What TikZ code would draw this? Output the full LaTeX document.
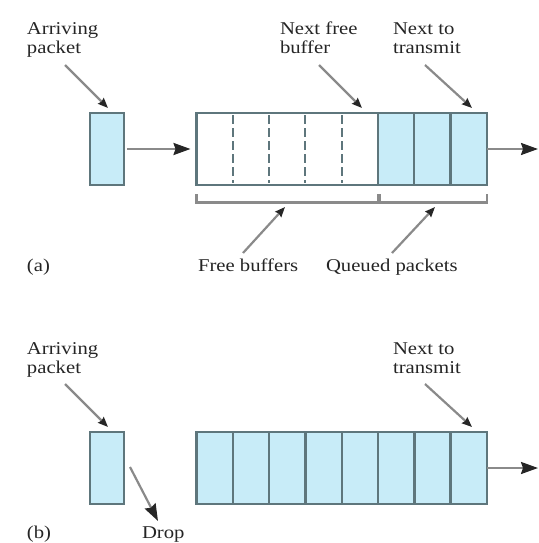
\documentclass[tikz,border=0pt]{standalone}
\usepackage{fontspec}
\setmainfont{Liberation Serif}[FakeStretch=1.15]
\usetikzlibrary{arrows.meta}
\definecolor{pktblue}{HTML}{C8ECF8}
\definecolor{edgec}{HTML}{5E767C}
\definecolor{linec}{HTML}{8A8A8A}
\definecolor{headc}{HTML}{262626}
\definecolor{txtc}{HTML}{252525}
\begin{document}
\begin{tikzpicture}[x=1pt,y=-1pt,
  lbl/.style={anchor=base west, inner sep=0pt, outer sep=0pt, align=left, text=txtc,
    font=\fontsize{18}{19}\selectfont},
  cellb/.style={draw=edgec, fill=pktblue, line width=2.4pt, minimum width=36.3pt,
    minimum height=72pt, inner sep=0pt, outer sep=0pt},
  freeq/.style={draw=edgec, fill=white, line width=2.4pt, minimum width=181.4pt,
    minimum height=72pt, inner sep=0pt, outer sep=0pt},
  divider/.style={draw=edgec, line width=2.2pt, dash pattern=on 9pt off 4pt},
  ptr/.style={draw=linec, line width=2.2pt,
    -{Stealth[length=10pt,width=8pt,inset=1pt,color=headc]}},
  harrow/.style={draw=linec, line width=2.2pt,
    -{Stealth[length=17pt,width=12pt,inset=2pt,color=headc]}},
  brk/.style={draw=linec, line width=2.2pt}
]
\useasboundingbox (0,0) rectangle (538,543);

% ---------- (a) ----------
% (base anchor of a two-line label = baseline of its last line)
\node[lbl] (arrA) at (27,54) {Arriving\\packet};
\node[lbl] (nfbA) at (280,54) {Next free\\buffer};
\node[lbl] (nttA) at (393,54) {Next to\\transmit};

\node[cellb, minimum width=34pt] (a0) at (107,149) {};
\node[freeq] (afree) at (287.2,149) {};
\foreach \xx in {232.8,269.0,305.3,341.6}
  \draw[divider] (\xx,115) -- (\xx,183);
\node[cellb] (aq1) at (396.05,149) {};
\node[cellb] (aq2) at (432.35,149) {};
\node[cellb] (aq3) at (468.65,149) {};

\draw[harrow, shorten <=3pt, shorten >=6pt] (a0) -- (afree);
\coordinate (aout) at (538,149);
\draw[harrow] (aq3.east) -- (aout);

\coordinate (pA1) at (65,65);   \coordinate (tA1) at (108,108);
\coordinate (pA2) at (319,65);  \coordinate (tA2) at (362,108);
\coordinate (pA3) at (425,65);  \coordinate (tA3) at (472,108);
\draw[ptr] (pA1) -- (tA1);
\draw[ptr] (pA2) -- (tA2);
\draw[ptr] (pA3) -- (tA3);

\draw[brk] (196.5,194) -- (196.5,202.5) -- (377.9,202.5) -- (377.9,194);
\draw[brk] (379.5,194) -- (379.5,202.5) -- (486.7,202.5) -- (486.7,194);
\coordinate (pB1) at (243,253); \coordinate (tB1) at (285,207);
\coordinate (pB2) at (392,253); \coordinate (tB2) at (435,207);
\draw[ptr] (pB1) -- (tB1);
\draw[ptr] (pB2) -- (tB2);

\node[lbl] (labA) at (27,271) {(a)};
\node[lbl] (freeL) at (198,271) {Free buffers};
\node[lbl] (queuedL) at (326,271) {Queued packets};

% ---------- (b) ----------
\node[lbl] (arrB) at (27,373) {Arriving\\packet};
\node[lbl] (nttB) at (393,373) {Next to\\transmit};

\node[cellb, minimum width=34pt] (b0) at (107,468) {};
\foreach \i/\xx in {1/214.65,2/250.95,3/287.25,4/323.55,5/359.85,6/396.15,7/432.45,8/468.75}
  \node[cellb] (b\i) at (\xx,468) {};

\coordinate (bout) at (538,468);
\draw[harrow] (b8.east) -- (bout);

\coordinate (pC1) at (65,384);  \coordinate (tC1) at (108,427);
\coordinate (pC3) at (425,384); \coordinate (tC3) at (472,427);
\draw[ptr] (pC1) -- (tC1);
\draw[ptr] (pC3) -- (tC3);

\coordinate (dropS) at (130,467); \coordinate (dropE) at (158,521);
\draw[harrow] (dropS) -- (dropE);

\node[lbl] (labB) at (27,538) {(b)};
\node[lbl] (dropL) at (142,538) {Drop};
\end{tikzpicture}
\end{document}
